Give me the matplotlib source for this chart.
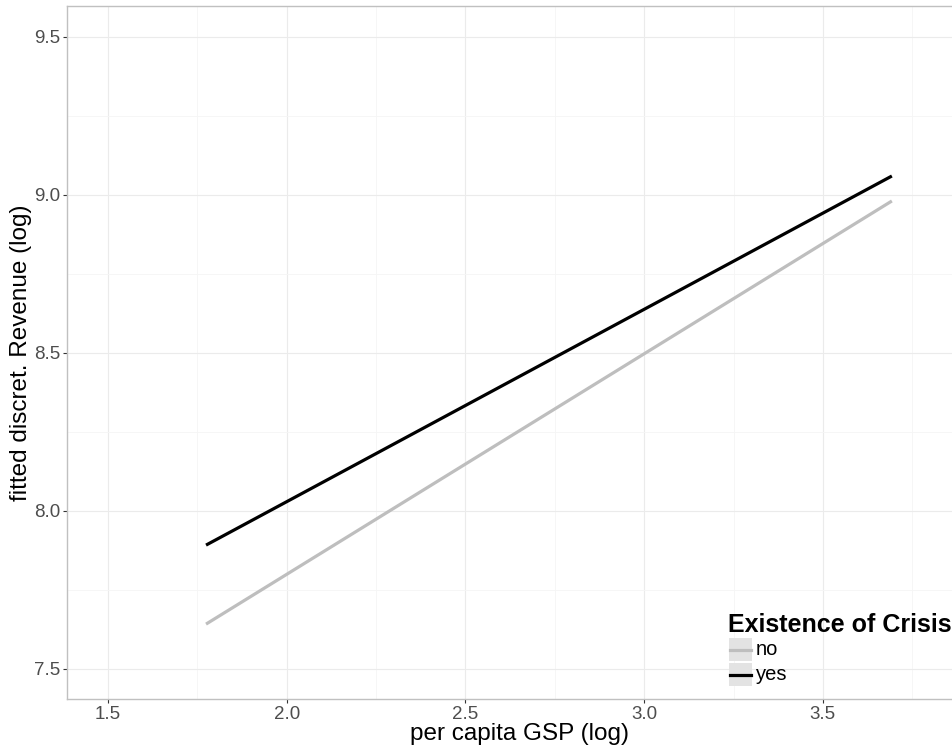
import matplotlib
matplotlib.use("Agg")
import matplotlib.pyplot as plt
from matplotlib.patches import Rectangle
from matplotlib.lines import Line2D
import numpy as np

plt.rcParams['font.family'] = ['Liberation Sans', 'DejaVu Sans']

# data
groups = ["no", "yes"]
x_start = [1.774, 1.774]
x_end = [3.693, 3.693]
y_start = [7.642, 7.892]
y_end = [8.981, 9.060]
colors = ["#bebebe", "#000000"]
x_ticks = [1.5, 2.0, 2.5, 3.0, 3.5]
y_ticks = [7.5, 8.0, 8.5, 9.0, 9.5]
legend_title = "Existence of Crisis"
x_title = "per capita GSP (log)"
y_title = "fitted discret. Revenue (log)"

W, H = 952, 753
fig = plt.figure(figsize=(W / 100, H / 100), dpi=100)
left, right, top, bottom = 67, 973, 6, 699
ax = fig.add_axes([left / W, (H - bottom) / H, (right - left) / W, (bottom - top) / H])

ax.set_xlim(1.385, 3.92)
ax.set_ylim(7.405, 9.598)

for xs, xe, ys, ye, c in zip(x_start, x_end, y_start, y_end, colors):
    ax.plot([xs, xe], [ys, ye], color=c, lw=2.3, solid_capstyle='butt', zorder=3)

ax.set_xticks(x_ticks)
ax.set_yticks(y_ticks)
ax.set_xticklabels([f"{v:.1f}" for v in x_ticks])
ax.set_yticklabels([f"{v:.1f}" for v in y_ticks])
ax.set_xticks([1.75, 2.25, 2.75, 3.25, 3.75], minor=True)
ax.set_yticks([7.75, 8.25, 8.75, 9.25], minor=True)
ax.grid(True, which='major', color='#ebebeb', lw=0.8)
ax.grid(True, which='minor', color='#f5f5f5', lw=0.6)
ax.set_axisbelow(True)
ax.tick_params(which='major', length=3, width=0.8, color='#333333',
               labelsize=13.5, labelcolor='#4d4d4d', pad=2)
ax.tick_params(which='minor', length=0)
for s in ax.spines.values():
    s.set_color('#c0c0c0')
    s.set_linewidth(1.0)

ax.set_xlabel(x_title, fontsize=17.5, color='black', labelpad=0)
ax.set_ylabel(y_title, fontsize=17.5, color='black', labelpad=1)

# legend (drawn in figure pixel coordinates)
def fx(px):
    return px / W

def fy(py):
    return (H - py) / H

fig.text(fx(728), fy(632), legend_title, fontsize=18, fontweight='bold',
         ha='left', va='baseline')
rows = [(638, 661), (663, 686)]
for (y0, y1), lab, c in zip(rows, groups, colors):
    fig.patches.append(Rectangle((fx(729), fy(y1)), fx(752) - fx(729), fy(y0) - fy(y1),
                                 transform=fig.transFigure, facecolor='#e3e3e3',
                                 edgecolor='none', zorder=5))
    yc = (y0 + y1) / 2
    fig.lines.append(Line2D([fx(730), fx(751)], [fy(yc), fy(yc)], transform=fig.transFigure,
                            color=c, lw=2.3, zorder=6))
    fig.text(fx(756), fy(yc), lab, fontsize=14.5, ha='left', va='center', zorder=6)

fig.savefig("out.png", dpi=100)
